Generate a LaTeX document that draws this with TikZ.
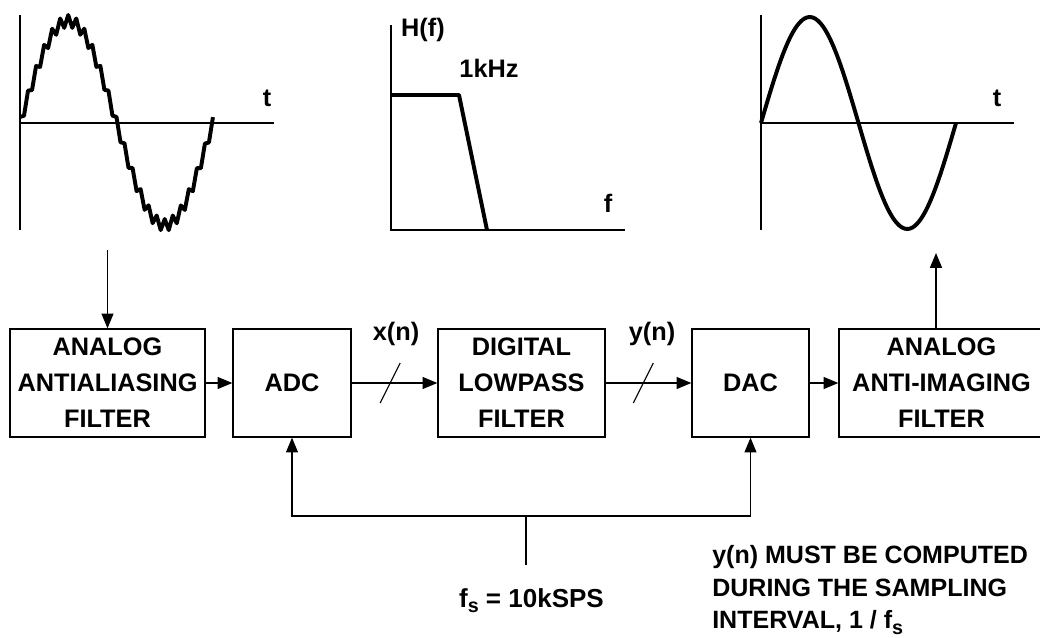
\documentclass[tikz,border=0pt]{standalone}
\usepackage{fontspec}
\setmainfont{Liberation Sans}
\usepackage{tikz}
\usetikzlibrary{positioning, arrows.meta, calc}
\newcommand{\lowsub}[1]{\raisebox{-4pt}{\fontsize{14}{14}\selectfont #1}}

\begin{document}
\begin{tikzpicture}[
        x=0.025cm, y=-0.025cm,
        block/.style={draw, rectangle, line width=0.9pt, align=center, inner sep=0pt, font=\fontsize{18}{25.5}\selectfont\bfseries},
        sig/.style={line width=0.9pt, -{Triangle[length=10.5pt, width=8.5pt]}},
        axis/.style={line width=0.8pt},
        wave/.style={line width=2.8pt, line join=round},
        lbl/.style={inner sep=0pt, font=\fontsize{18}{20}\selectfont\bfseries},
        note/.style={inner sep=0pt, align=left, font=\fontsize{17.8}{23.2}\selectfont\bfseries}
    ]
    \useasboundingbox (0,0) rectangle (1040,638);

    % input signal with ripple
    \draw[axis] (20,15) -- (20,230);
    \draw[axis] (20,123) -- (274,123);
    \node[lbl] (tin) at (267,98) {t};
    \draw[wave] plot[domain=0:1, samples=49] ({20+193*\x}, {123-102*sin(360*\x)-6*cos(8640*\x)});

    % digital filter response
    \draw[axis] (391,25) -- (391,230) -- (625,230);
    \node[lbl] (hf) at (423,30) {H(f)};
    \node[lbl] (fc) at (489,68) {1kHz};
    \node[lbl] (fax) at (608,203) {f};
    \draw[wave] (391,95) -- (459,95) -- (487,230);

    % output signal
    \draw[axis] (761,15) -- (761,230);
    \draw[axis] (761,123) -- (1014,123);
    \node[lbl] (tout) at (997,98) {t};
    \draw[wave] plot[domain=0:1, samples=73, smooth] ({761+195*\x}, {123-106*sin(360*\x)});

    % signal chain
    \node[block, minimum width=4.875cm, minimum height=2.7cm] (aaf) at (107.5,383) {ANALOG\\ANTIALIASING\\FILTER};
    \node[block, minimum width=2.95cm, minimum height=2.7cm] (adc) at (292,383) {ADC};
    \node[block, minimum width=4.175cm, minimum height=2.7cm] (dlp) at (521.5,383) {DIGITAL\\LOWPASS\\FILTER};
    \node[block, minimum width=2.925cm, minimum height=2.7cm] (dac) at (750.5,383) {DAC};
    \node[block, minimum width=5.125cm, minimum height=2.7cm] (aif) at (941.5,383) {ANALOG\\ANTI-IMAGING\\FILTER};

    \coordinate (inp) at (107.5,250);
    \coordinate (outp) at (936,253);
    \draw[sig] (inp) -- (aaf.north);
    \draw[sig] (aaf.east) -- (adc.west);
    \draw[sig] (adc.east) -- coordinate[pos=0.45] (xm) (dlp.west);
    \draw[sig] (dlp.east) -- coordinate[pos=0.44] (ym) (dac.west);
    \draw[sig] (dac.east) -- (aif.west);
    \draw[sig] (aif.north -| outp) -- (outp);

    \draw[axis] ($(xm)+(-10,20)$) -- ($(xm)+(10,-20)$);
    \draw[axis] ($(ym)+(-10,20)$) -- ($(ym)+(10,-20)$);
    \node[lbl] (xn) at (396,334) {x(n)};
    \node[lbl] (yn) at (652,334) {y(n)};

    % sampling clock
    \coordinate (clk) at (526,565);
    \coordinate (tee) at (526,516);
    \draw[axis] (clk) -- (tee);
    \draw[sig] (tee) -| (adc.south);
    \draw[sig] (tee) -| (dac.south);
    \node[lbl, anchor=base, font=\fontsize{18.5}{20}\selectfont\bfseries] (fs) at (531.5,607) {f\lowsub{s} = 10kSPS};

    \node[note, anchor=north west] (rule) at (712,545) {y(n) MUST BE COMPUTED\\DURING THE SAMPLING\\INTERVAL, 1 / f\lowsub{s}};
\end{tikzpicture}
\end{document}
